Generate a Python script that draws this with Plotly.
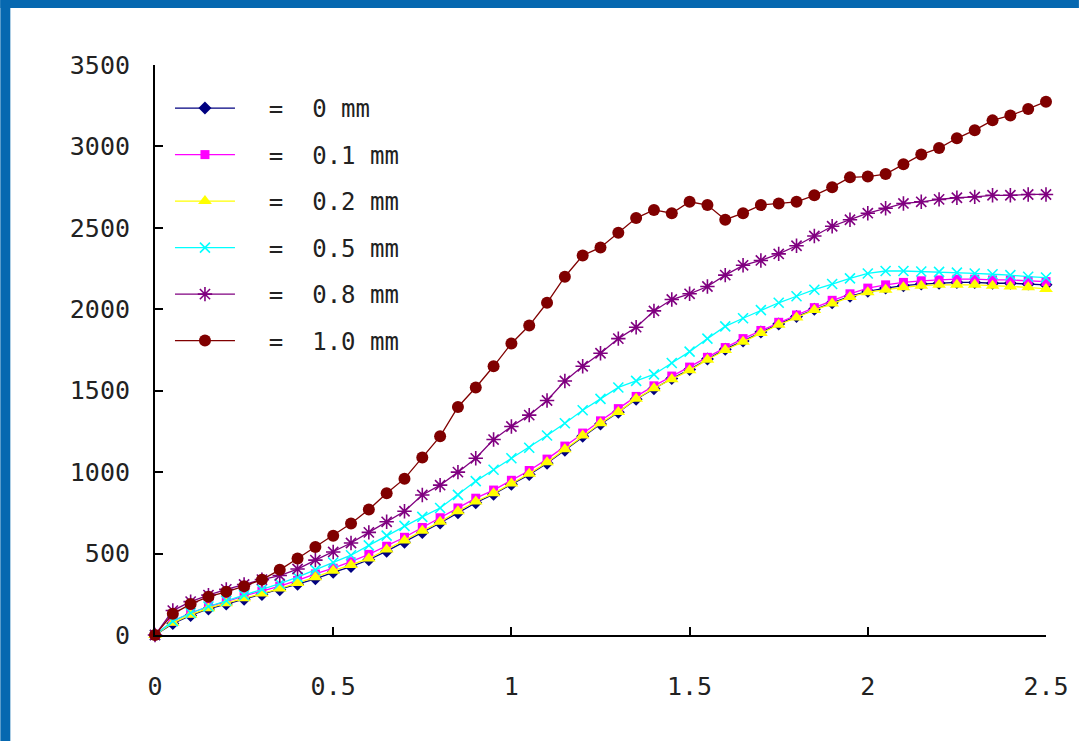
import plotly.graph_objects as go

x_vals = [0.0, 0.05, 0.1, 0.15, 0.2, 0.25, 0.3, 0.35, 0.4, 0.45, 0.5, 0.55, 0.6, 0.65, 0.7, 0.75, 0.8, 0.85, 0.9, 0.95,
          1.0, 1.05, 1.1, 1.15, 1.2, 1.25, 1.3, 1.35, 1.4, 1.45, 1.5, 1.55, 1.6, 1.65, 1.7, 1.75, 1.8, 1.85, 1.9, 1.95,
          2.0, 2.05, 2.1, 2.15, 2.2, 2.25, 2.3, 2.35, 2.4, 2.45, 2.5]

y_0mm = [0, 70, 120, 160, 190, 220, 248, 278, 312, 345, 385, 420, 462, 515, 570, 630, 688, 750, 812, 865,
         925, 985, 1055, 1135, 1220, 1295, 1368, 1448, 1512, 1575, 1630, 1695, 1755, 1805, 1860, 1910, 1955, 2000, 2040, 2080,
         2110, 2130, 2145, 2155, 2160, 2165, 2165, 2160, 2160, 2155, 2150]
y_01mm = [0, 85, 135, 175, 205, 240, 270, 300, 335, 375, 410, 450, 495, 545, 600, 660, 720, 780, 840, 890,
          950, 1010, 1080, 1160, 1240, 1315, 1390, 1465, 1530, 1590, 1645, 1705, 1765, 1820, 1870, 1920, 1965, 2010, 2055, 2095,
          2130, 2150, 2165, 2175, 2180, 2185, 2185, 2180, 2180, 2175, 2170]
y_02mm = [0, 75, 125, 165, 195, 225, 255, 285, 320, 355, 395, 430, 470, 525, 580, 640, 695, 760, 820, 870,
          930, 990, 1060, 1140, 1225, 1300, 1370, 1450, 1515, 1570, 1625, 1690, 1750, 1800, 1855, 1905, 1950, 1995, 2035, 2075,
          2105, 2120, 2135, 2145, 2150, 2150, 2150, 2145, 2140, 2135, 2125]
y_05mm = [0, 85, 135, 175, 210, 245, 280, 315, 355, 400, 445, 490, 550, 610, 670, 725, 780, 860, 945, 1015,
          1085, 1150, 1225, 1300, 1380, 1450, 1520, 1560, 1600, 1670, 1740, 1820, 1895, 1945, 1995, 2040, 2080, 2120, 2155, 2190,
          2220, 2235, 2235, 2232, 2230, 2225, 2220, 2215, 2210, 2200, 2195]
y_08mm = [0, 150, 205, 245, 280, 310, 340, 365, 405, 460, 510, 565, 630, 695, 760, 860, 920, 1000, 1085, 1200,
          1280, 1350, 1440, 1560, 1650, 1730, 1820, 1890, 1990, 2060, 2095, 2140, 2210, 2270, 2300, 2340, 2390, 2450, 2510, 2550,
          2590, 2620, 2650, 2660, 2675, 2685, 2690, 2700, 2700, 2705, 2705]
y_10mm = [0, 130, 190, 235, 265, 300, 340, 400, 470, 540, 610, 685, 770, 870, 960, 1090, 1220, 1400, 1520, 1650,
          1790, 1900, 2040, 2200, 2330, 2380, 2470, 2560, 2610, 2590, 2660, 2640, 2550, 2590, 2640, 2650, 2660, 2700, 2750, 2810,
          2815, 2830, 2890, 2950, 2990, 3050, 3100, 3160, 3190, 3230, 3275]

x_ticks = [0, 0.5, 1, 1.5, 2, 2.5]
x_tick_text = ["0", "0.5", "1", "1.5", "2", "2.5"]
y_ticks = [0, 500, 1000, 1500, 2000, 2500, 3000, 3500]

NB = "\u00a0"
gaps = ["0", "0.1", "0.2", "0.5", "0.8", "1.0"]
names = [f"{NB}{NB}={NB}{NB}{g}{NB}mm" for g in gaps]
series = [y_0mm, y_01mm, y_02mm, y_05mm, y_08mm, y_10mm]
colors = ["#000080", "#FF00FF", "#FFFF00", "#00FFFF", "#800080", "#800000"]
symbols = ["diamond", "square", "triangle-up", "x-thin", "asterisk", "circle"]
sizes = [10, 9, 12, 10, 12, 12]

fig = go.Figure()
for i, (nm, ys, c, s, sz) in enumerate(zip(names, series, colors, symbols, sizes)):
    marker = dict(symbol=s, size=sz, color=c, line=dict(width=0))
    if s in ("x-thin", "asterisk"):
        marker = dict(symbol=s, size=sz, color=c, line=dict(width=1.6, color=c))
    fig.add_trace(go.Scatter(
        x=x_vals, y=ys, mode="lines+markers", name=nm, legendgroup=f"g{i}",
        line=dict(color=c, width=1.3), marker=marker, cliponaxis=False,
    ))

L, R, T, B = 155, 33, 65, 106
W, H = 1081, 741
pw, ph = W - L - R, H - T - B


def px_x(p):
    return (p - L) / pw


def px_y(p):
    return (H - B - p) / ph


blue = "#0668B0"
fig.add_shape(type="rect", xref="paper", yref="paper", x0=px_x(0), x1=px_x(10), y0=px_y(H), y1=px_y(0),
              fillcolor=blue, line_width=0, layer="below")
fig.add_shape(type="rect", xref="paper", yref="paper", x0=px_x(0), x1=px_x(W), y0=px_y(8), y1=px_y(0),
              fillcolor=blue, line_width=0, layer="below")

tick_font = dict(family="DejaVu Sans Mono", size=25, color="#222222")

fig.update_layout(
    width=W, height=H,
    margin=dict(l=L, r=R, t=T, b=B),
    paper_bgcolor="white", plot_bgcolor="white",
    showlegend=True,
    legend=dict(x=px_x(170), y=px_y(86), xanchor="left", yanchor="top",
                font=dict(family="DejaVu Sans Mono", size=24, color="#222222"),
                bgcolor="rgba(0,0,0,0)", borderwidth=0, tracegroupgap=12.3, itemwidth=60),
    xaxis=dict(range=[0, 2.5], tickvals=x_ticks, ticktext=x_tick_text, showgrid=False, zeroline=False,
               showline=True, linecolor="black", linewidth=2, ticks="inside", ticklen=8, tickwidth=2,
               tickcolor="black", tickfont=tick_font, ticklabelstandoff=28),
    yaxis=dict(range=[0, 3500], tickvals=y_ticks, showgrid=False, zeroline=False,
               showline=True, linecolor="black", linewidth=2, ticks="inside", ticklen=8, tickwidth=2,
               tickcolor="black", tickfont=tick_font, ticklabelstandoff=18),
)

fig.write_html("out.html")
